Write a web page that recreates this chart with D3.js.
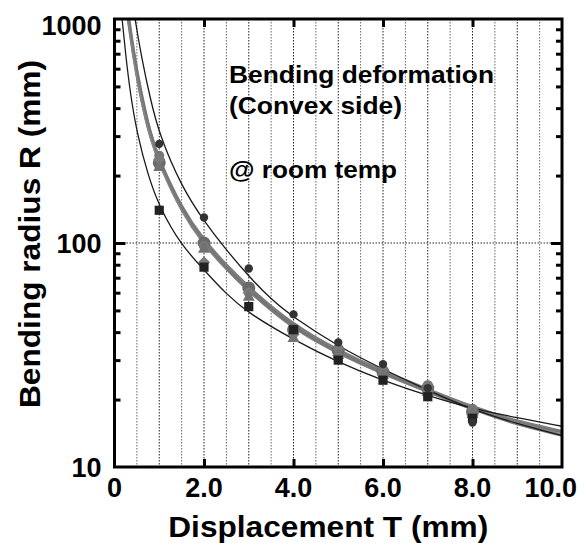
<!DOCTYPE html>
<html>
<head>
<meta charset="utf-8">
<script src="https://cdn.jsdelivr.net/npm/d3@7"></script>
<style>
  body { margin: 0; background: #fff; }
  text { font-family: "Liberation Sans", Arial, sans-serif; font-weight: bold; fill: #000; }
</style>
</head>
<body>
<svg id="chart" width="579" height="543"></svg>
<script>
// measured displacement steps
const markT = [1, 2, 3, 4, 5, 6, 7, 8];

// measured points (bending radius, mm)
const upperDarkR = [277, 130, 77, 48, 36, 28.8, 22.5, 15.8];
const lowerDarkR = [140, 78, 52, 41, 30, 24.4, 20.6, 16.5];
const grayAR = [228, 100, 63, 41, 33, 26.5, 22.5, 17.6];
const grayBR = [245, 97, 60, 40, 34, 27.2, 23.2, 18.2];
const grayCR = [236, 82, 60, 39, 31.5, 25.8, 21.6, 17.0];
const grayDR = [220, 95, 58, 38, 32, 26, 21.8, 17.4];

// fitted curves: [T, R]
const upperDarkFit = [[0.46, 1000], [0.6, 680], [0.8, 440], [1, 305], [1.5, 178], [2, 125], [2.5, 93], [3, 71], [3.5, 56], [4, 46.5], [5, 34.5], [6, 27.3], [7, 22], [8, 18], [9, 15.6], [10, 13.8]];
const lowerDarkFit = [[0.17, 1000], [0.25, 690], [0.35, 470], [0.5, 310], [0.75, 200], [1, 145], [1.5, 97], [2, 76], [2.5, 59], [3, 48.5], [4, 37], [5, 29.3], [6, 24.3], [7, 20.8], [8, 18.2], [9, 16.6], [10, 15.2]];
const grayAFit = [[0.3, 1000], [0.4, 720], [0.55, 480], [0.77, 305], [1, 228], [1.5, 140], [2, 101], [2.5, 78], [3, 62], [4, 42], [5, 32.5], [6, 26.4], [7, 22], [8, 18.4], [9, 15.9], [10, 14.3]];
const grayBFit = [[0.32, 1000], [0.42, 715], [0.57, 485], [0.8, 308], [1, 236], [1.5, 144], [2, 103], [2.5, 80], [3, 63.5], [4, 43], [5, 33.2], [6, 26.8], [7, 22.3], [8, 18.6], [9, 16.0], [10, 14.5]];
const grayCFit = [[0.31, 1000], [0.41, 705], [0.56, 470], [0.78, 300], [1, 224], [1.5, 136], [2, 98], [2.5, 76], [3, 60.5], [4, 41], [5, 32], [6, 26], [7, 21.6], [8, 18.1], [9, 15.6], [10, 14.0]];
const grayDFit = [[0.33, 1000], [0.43, 725], [0.58, 490], [0.8, 312], [1, 232], [1.5, 141], [2, 100], [2.5, 77], [3, 61], [4, 41.5], [5, 32.2], [6, 26.1], [7, 21.7], [8, 18.0], [9, 15.4], [10, 13.8]];

// axis ticks
const xLabelValues = [0, 2, 4, 6, 8, 10];
const xMajorTicks = [2, 4, 6, 8];
const xGrid = d3.range(0.5, 10, 0.5);
const yLabelValues = [10, 100, 1000];
const yMinorTicks = [20, 30, 40, 50, 60, 70, 80, 90, 200, 300, 400, 500, 600, 700, 800, 900];

const series = [
  { name: 'grayA', fit: grayAFit, pts: grayAR, color: '#6e6e6e', width: 2.4, shape: 'circle', size: 6.5, mcolor: '#6a6a6a' },
  { name: 'grayB', fit: grayBFit, pts: grayBR, color: '#7c7c7c', width: 2.2, shape: 'circle', size: 5, mcolor: '#777' },
  { name: 'grayC', fit: grayCFit, pts: grayCR, color: '#858585', width: 2.2, shape: 'diamond', size: 6, mcolor: '#7a7a7a' },
  { name: 'grayD', fit: grayDFit, pts: grayDR, color: '#777', width: 2.2, shape: 'triangle', size: 6, mcolor: '#727272' },
  { name: 'lowerDark', fit: lowerDarkFit, pts: lowerDarkR, color: '#1a1a1a', width: 1.3, shape: 'square', size: 4.6, mcolor: '#222' },
  { name: 'upperDark', fit: upperDarkFit, pts: upperDarkR, color: '#1a1a1a', width: 1.3, shape: 'circle', size: 4.2, mcolor: '#333' },
];

const margin = { top: 19, right: 17, bottom: 76, left: 114.5 };
const width = 579 - margin.left - margin.right;
const height = 543 - margin.top - margin.bottom;

const svg = d3.select('#chart').
  append('g').
  attr('transform', `translate(${margin.left},${margin.top})`);

const xScale = d3.scaleLinear().domain([0, 10]).range([0, width]);
const yScale = d3.scaleLog().domain([10, 1000]).range([height, 0]);

svg.append('clipPath').attr('id', 'plot-clip').
  append('rect').attr('width', width).attr('height', height);

// dotted grid
svg.selectAll('.vgrid').
  data(xGrid).
  enter().
  append('line').
  attr('x1', d => xScale(d)).attr('x2', d => xScale(d)).
  attr('y1', 0).attr('y2', height).
  attr('stroke', d => d % 1 === 0 ? '#222' : '#666').
  attr('stroke-width', 1).
  attr('stroke-dasharray', '1.5,1.5');

svg.append('line').
  attr('x1', 0).attr('x2', width).
  attr('y1', yScale(100)).attr('y2', yScale(100)).
  attr('stroke', '#222').attr('stroke-width', 1).
  attr('stroke-dasharray', '1.5,1.5');

// fitted curves
const line = d3.line().
  x(d => xScale(d[0])).
  y(d => yScale(d[1])).
  curve(d3.curveBasis);

const curves = svg.append('g').attr('clip-path', 'url(#plot-clip)');
curves.selectAll('path').
  data(series).
  enter().
  append('path').
  attr('d', d => line(d.fit)).
  attr('fill', 'none').
  attr('stroke', d => d.color).
  attr('stroke-width', d => d.width);

// markers
function markerPath(shape, s) {
  if (shape === 'square') return `M${-s},${-s}h${2 * s}v${2 * s}h${-2 * s}Z`;
  if (shape === 'diamond') return `M0,${-s}L${s},0L0,${s}L${-s},0Z`;
  if (shape === 'triangle') return `M0,${-s}L${s},${s * 0.8}L${-s},${s * 0.8}Z`;
  return d3.arc()({ innerRadius: 0, outerRadius: s, startAngle: 0, endAngle: 2 * Math.PI });
}

svg.selectAll('.marks').
  data(series).
  enter().
  append('g').
  attr('fill', d => d.mcolor).
  selectAll('path').
  data(d => d.pts.map((r, i) => ({ t: markT[i], r: r, shape: d.shape, size: d.size }))).
  enter().
  append('path').
  attr('transform', d => `translate(${xScale(d.t)},${yScale(d.r)})`).
  attr('d', d => markerPath(d.shape, d.size));

// ticks (inward)
const tickStyle = g => {
  g.select('.domain').remove();
  g.selectAll('.tick line').attr('stroke', '#000').attr('stroke-width', 3);
};

svg.append('g').attr('transform', `translate(0,${height})`).
  call(d3.axisBottom(xScale).tickValues(xMajorTicks).tickSize(-8).tickFormat('')).
  call(tickStyle);
svg.append('g').
  call(d3.axisTop(xScale).tickValues(xMajorTicks).tickSize(-8).tickFormat('')).
  call(tickStyle);

svg.append('g').
  call(d3.axisLeft(yScale).tickValues(yMinorTicks).tickSize(-6).tickFormat('')).
  call(tickStyle);
svg.append('g').
  call(d3.axisLeft(yScale).tickValues([100]).tickSize(-11).tickFormat('')).
  call(tickStyle);
svg.append('g').attr('transform', `translate(${width},0)`).
  call(d3.axisRight(yScale).tickValues(yMinorTicks).tickSize(-6).tickFormat('')).
  call(tickStyle);
svg.append('g').attr('transform', `translate(${width},0)`).
  call(d3.axisRight(yScale).tickValues([100]).tickSize(-11).tickFormat('')).
  call(tickStyle);

// frame
svg.append('rect').
  attr('width', width).attr('height', height).
  attr('fill', 'none').attr('stroke', '#000').attr('stroke-width', 3);

// tick labels
svg.selectAll('.xlab').
  data(xLabelValues).
  enter().
  append('text').
  attr('x', d => d === 10 ? xScale(d) + 15 : xScale(d)).
  attr('y', height + 30).
  attr('text-anchor', d => d === 10 ? 'end' : 'middle').
  style('font-size', '27px').
  text(d => d === 0 ? '0' : d.toFixed(1));

svg.selectAll('.ylab').
  data(yLabelValues).
  enter().
  append('text').
  attr('x', -13).
  attr('y', d => d === 1000 ? yScale(d) + 16 : yScale(d) + 10).
  attr('text-anchor', 'end').
  style('font-size', '27px').
  text(d => d);

// axis titles
svg.append('text').
  attr('x', width / 2 - 10).
  attr('y', height + 70).
  attr('text-anchor', 'middle').
  attr('textLength', 320).
  attr('lengthAdjust', 'spacingAndGlyphs').
  style('font-size', '29px').
  text('Displacement T (mm)');

svg.append('text').
  attr('transform', `translate(${40 - margin.left},${234 - margin.top}) rotate(-90)`).
  attr('text-anchor', 'middle').
  attr('textLength', 348).
  attr('lengthAdjust', 'spacingAndGlyphs').
  style('font-size', '30px').
  text('Bending radius R (mm)');

// annotation
const notes = [
  { text: 'Bending deformation', y: 83, len: 265 },
  { text: '(Convex side)', y: 114, len: 173 },
  { text: '@ room temp', y: 178, len: 168 },
];
svg.selectAll('.note').
  data(notes).
  enter().
  append('text').
  attr('x', 229 - margin.left).
  attr('y', d => d.y - margin.top).
  attr('textLength', d => d.len).
  attr('lengthAdjust', 'spacingAndGlyphs').
  style('font-size', '24px').
  text(d => d.text);
</script>
</body>
</html>
